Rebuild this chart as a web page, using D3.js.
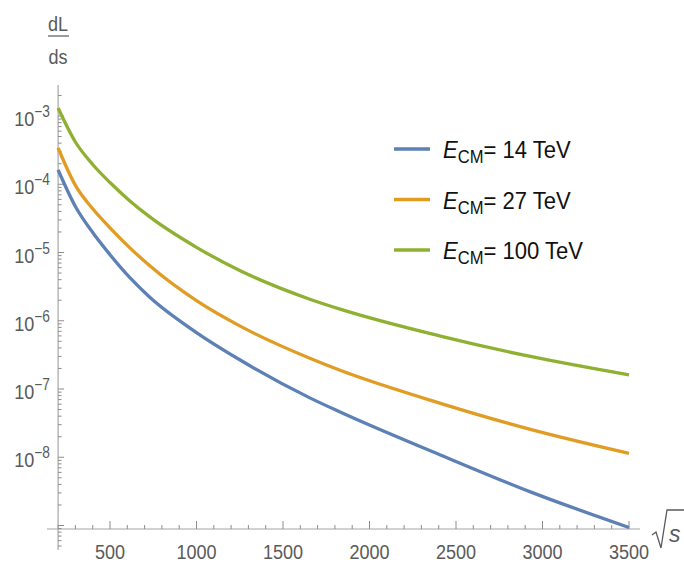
<!DOCTYPE html>
<html>
<head>
<meta charset="utf-8">
<script src="https://cdn.jsdelivr.net/npm/d3@7"></script>
<style>
  body { margin: 0; background: #fff; }
  svg { display: block; }
  text { font-family: 'Liberation Sans', Arial, sans-serif; }
</style>
</head>
<body>
<svg id="chart" width="684" height="563"></svg>
<script>
// sqrt(s) sample points (GeV) and dL/ds
const sqrtS = [200, 300, 400, 500, 615, 730, 1000, 1250, 1655, 1830, 2410, 2930, 3500];
const lumi14 = [1.62e-4, 4.72e-5, 1.96e-5, 9.29e-6, 4.27e-6, 2.21e-6, 6.71e-7, 2.68e-7, 7.41e-8, 4.60e-8, 1.08e-8, 3.11e-9, 9.35e-10];
const lumi27 = [3.40e-4, 9.62e-5, 4.37e-5, 2.30e-5, 1.17e-5, 6.38e-6, 1.97e-6, 8.40e-7, 2.82e-7, 1.88e-7, 6.17e-8, 2.56e-8, 1.14e-8];
const lumi100 = [1.31e-3, 4.16e-4, 1.95e-4, 1.06e-4, 5.70e-5, 3.32e-5, 1.19e-5, 5.45e-6, 2.07e-6, 1.48e-6, 5.96e-7, 3.00e-7, 1.61e-7];

const seriesNames = ['14 TeV', '27 TeV', '100 TeV'];
const seriesColors = ['#5e81b5', '#e19c24', '#8fb032'];

const xMajorTicks = [500, 1000, 1500, 2000, 2500, 3000, 3500];
const xMinorTicks = d3.range(200, 3501, 100);
const yExponents = [-3, -4, -5, -6, -7, -8];

const svg = d3.select('#chart');

const x = d3.scaleLinear().domain([500, 3500]).range([110, 629]);
const y = d3.scaleLog().domain([1e-3, 1e-9]).range([116, 525.5]);

const axisColor = '#a6a6a6';
const labelColor = '#5a5a5a';
const squeeze = 0.86;       // narrow look of the tick font

const x0 = x(200);          // y axis position
const yAxisPos = 529;       // x axis position (bottom of plot range)

// y minor ticks: 2..9 in each decade, within the drawn axis
const yTop = 85, yBottom = 550;
const yMinor = [];
for (let e = -10; e <= -3; e++) {
  for (let m = 1; m <= 9; m++) {
    const v = m * Math.pow(10, e);
    const py = y(v);
    if (py >= yTop && py <= yBottom) yMinor.push({v, major: m === 1 && e >= -9});
  }
}

const axes = svg.append('g');

// x axis
axes.append('line')
  .attr('x1', 47).attr('x2', 640)
  .attr('y1', yAxisPos).attr('y2', yAxisPos)
  .attr('stroke', axisColor).attr('stroke-width', 1.2);

axes.selectAll('.xminor').data(xMinorTicks).enter().append('line')
  .attr('x1', d => x(d)).attr('x2', d => x(d))
  .attr('y1', yAxisPos).attr('y2', d => yAxisPos - (d % 500 === 0 ? 8 : 4))
  .attr('stroke', '#8c8c8c').attr('stroke-width', 1);

axes.selectAll('.xlab').data(xMajorTicks).enter().append('text')
  .attr('transform', d => `translate(${x(d)},559) scale(${squeeze},1)`)
  .attr('text-anchor', 'middle')
  .attr('font-size', 21)
  .attr('fill', labelColor)
  .text(d => d);

// y axis
axes.append('line')
  .attr('x1', x0).attr('x2', x0)
  .attr('y1', yTop).attr('y2', yBottom)
  .attr('stroke', axisColor).attr('stroke-width', 1.2);

axes.selectAll('.yminor').data(yMinor).enter().append('line')
  .attr('x1', x0).attr('x2', d => x0 + (d.major ? 6 : 3.5))
  .attr('y1', d => y(d.v)).attr('y2', d => y(d.v))
  .attr('stroke', '#8c8c8c').attr('stroke-width', 1);

const ylab = axes.selectAll('.ylab').data(yExponents).enter().append('text')
  .attr('transform', e => `translate(50,${y(Math.pow(10, e)) + 10}) scale(${squeeze},1)`)
  .attr('text-anchor', 'end')
  .attr('font-size', 21)
  .attr('fill', labelColor);
ylab.append('tspan').text('10');
ylab.append('tspan').attr('dy', -9).attr('font-size', 16).text(e => '\u2212' + Math.abs(e));

// dL/ds label
axes.append('text').attr('transform', `translate(58,31) scale(${squeeze},1)`).attr('text-anchor', 'middle')
  .attr('font-size', 21).attr('fill', labelColor).text('dL');
axes.append('line').attr('x1', 48).attr('x2', 69).attr('y1', 36).attr('y2', 36)
  .attr('stroke', labelColor).attr('stroke-width', 1.2);
axes.append('text').attr('transform', `translate(58,64) scale(${squeeze},1)`).attr('text-anchor', 'middle')
  .attr('font-size', 21).attr('fill', labelColor).text('ds');

// sqrt(s) label
axes.append('path')
  .attr('d', 'M652,535 L656,532 L661,548 L667,510 L684,510')
  .attr('fill', 'none').attr('stroke', labelColor).attr('stroke-width', 1.3);
axes.append('text').attr('transform', 'translate(669,542)')
  .attr('font-size', 23).attr('font-style', 'italic')
  .attr('fill', labelColor).text('s');

// curves
const series = [lumi14, lumi27, lumi100];
const line = d3.line()
  .x((d, i) => x(sqrtS[i]))
  .y(d => y(d))
  .curve(d3.curveMonotoneX);

svg.append('g').selectAll('path').data(series).enter().append('path')
  .attr('d', d => line(d))
  .attr('fill', 'none')
  .attr('stroke', (d, i) => seriesColors[i])
  .attr('stroke-width', 3.3);

// legend
const legend = svg.append('g').selectAll('g').data(seriesNames).enter().append('g')
  .attr('transform', (d, i) => `translate(0, ${149 + i * 50.5})`);
legend.append('line')
  .attr('x1', 394).attr('x2', 430).attr('y1', 0).attr('y2', 0)
  .attr('stroke', (d, i) => seriesColors[i]).attr('stroke-width', 3.3);
const lt = legend.append('text')
  .attr('transform', 'translate(443,9) scale(0.92,1)')
  .attr('font-size', 24).attr('fill', '#111');
lt.append('tspan').attr('font-style', 'italic').text('E');
lt.append('tspan').attr('dy', 5).attr('font-size', 18).text('CM');
lt.append('tspan').attr('dy', -5).text(d => '= ' + d);
</script>
</body>
</html>
